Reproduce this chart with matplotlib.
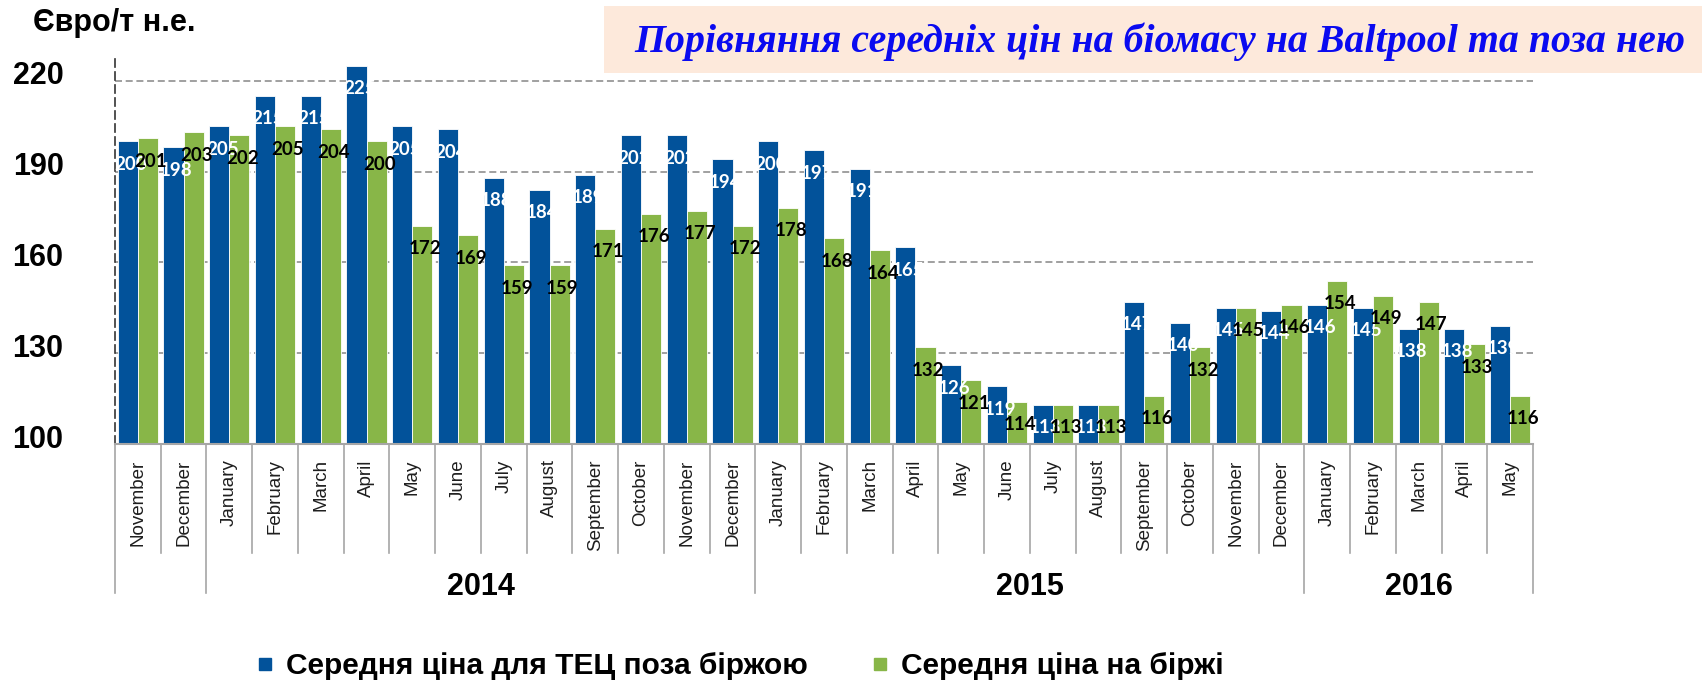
import matplotlib
matplotlib.use('Agg')
import matplotlib.pyplot as plt
from matplotlib.lines import Line2D
from matplotlib.patches import Rectangle
from matplotlib.transforms import ScaledTranslation, blended_transform_factory
import numpy as np

plt.rcParams['font.family'] = ['Liberation Sans', 'DejaVu Sans']

# місяці листопад 2013 - травень 2016
misyatsi = ['November', 'December',
            'January', 'February', 'March', 'April', 'May', 'June',
            'July', 'August', 'September', 'October', 'November', 'December',
            'January', 'February', 'March', 'April', 'May', 'June',
            'July', 'August', 'September', 'October', 'November', 'December',
            'January', 'February', 'March', 'April', 'May']
roky = ['', '2014', '2015', '2016']
misyatsiv_u_rotsi = [2, 12, 12, 5]

# ціни, євро/т н.е.
tsina_poza = [200, 198, 205, 215, 215, 225, 205, 204, 188, 184, 189, 202, 202, 194,
              200, 197, 191, 165, 126, 119, 113, 113, 147, 140, 145, 144,
              146, 145, 138, 138, 139]
tsina_birzha = [201, 203, 202, 205, 204, 200, 172, 169, 159, 159, 171, 176, 177, 172,
                178, 168, 164, 132, 121, 114, 113, 113, 116, 132, 145, 146,
                154, 149, 147, 133, 116]

yticks = [100, 130, 160, 190, 220]

nazva_1 = 'Середня ціна для ТЕЦ поза біржою'
nazva_2 = 'Середня ціна на біржі'
zagolovok = 'Порівняння середніх цін на біомасу на Baltpool та поза нею'

syniy = '#02529a'
zeleny = '#88b648'

W, H = 1704, 681
fig = plt.figure(figsize=(W / 100, H / 100), dpi=100)
ax = fig.add_axes([115 / W, 1 - 444 / H, (1533 - 115) / W, (444 - 55) / H])

x = np.arange(len(misyatsi))
w = 0.44
b1 = ax.bar(x - w / 2, np.array(tsina_poza) - 100, w, bottom=100, color=syniy,
            edgecolor='white', linewidth=0.6, zorder=2)
b2 = ax.bar(x + w / 2, np.array(tsina_birzha) - 100, w, bottom=100, color=zeleny,
            edgecolor='white', linewidth=0.6, zorder=2)

# підписи значень всередині стовпчиків
for xi, v in zip(x, tsina_poza):
    ax.annotate(str(v), xy=(xi - w / 2, v), xytext=(2, -16.5), textcoords='offset points',
                ha='center', va='center', color='white', fontsize=13.5,
                fontweight='bold', family=['Lato', 'DejaVu Sans'], zorder=5)
for xi, v in zip(x, tsina_birzha):
    ax.annotate(str(v), xy=(xi + w / 2, v), xytext=(2, -16.5), textcoords='offset points',
                ha='center', va='center', color='black', fontsize=13.5,
                fontweight='bold', family=['Lato', 'DejaVu Sans'], zorder=6)

ax.set_xlim(-0.5, len(misyatsi) - 0.5)
ax.set_ylim(100, 228.5)

ax.set_yticks(yticks)
ax.set_yticklabels([str(t) for t in yticks], fontsize=22, fontweight='bold')
ax.tick_params(axis='y', length=0, pad=37)
for lab in ax.get_yticklabels():
    lab.set_transform(lab.get_transform() + ScaledTranslation(0, 8 / 100, fig.dpi_scale_trans))
ax.yaxis.grid(True, color='#a0a0a0', linewidth=1.4, linestyle=(0, (3.6, 1.9)), zorder=0.5)
ax.set_axisbelow(True)

ax.set_xticks(x)
ax.set_xticklabels(misyatsi, rotation=90, fontsize=13.5, color='#1e1e1e')
ax.tick_params(axis='x', length=0, pad=11)

for s in ['top', 'right']:
    ax.spines[s].set_visible(False)
ax.spines['left'].set_color('#333333')
ax.spines['left'].set_linewidth(1.2)
ax.spines['left'].set_linestyle((0, (4.8, 3)))
ax.spines['bottom'].set_color('#a6a6a6')
ax.spines['bottom'].set_linewidth(1.5)

# роздільники місяців і років під віссю
tr = blended_transform_factory(ax.transData, ax.transAxes)
mezhi_rokiv = np.cumsum([0] + misyatsiv_u_rotsi)
for i in range(len(misyatsi) + 1):
    niz = -0.383 if i in mezhi_rokiv else -0.28
    ax.add_line(Line2D([i - 0.5, i - 0.5], [0, niz], transform=tr, color='#a6a6a6',
                       linewidth=1.2, clip_on=False))
for rik, a, b in zip(roky, mezhi_rokiv[:-1], mezhi_rokiv[1:]):
    if rik:
        ax.text((a + b - 1) / 2, -0.3676, rik, transform=tr, ha='center', va='center',
                fontsize=22, fontweight='bold')

fig.text(33 / W, 1 - 23 / H, 'Євро/т н.е.', fontsize=22, fontweight='bold',
         ha='left', va='center')

# заголовок у рожевій рамці
fig.patches.append(Rectangle((604 / W, 1 - 73 / H), (1702 - 604) / W, 67 / H,
                             transform=fig.transFigure, facecolor='#fde9db',
                             edgecolor='none', zorder=0))
fig.text(634 / W, 1 - 42 / H, zagolovok, fontsize=28.7, fontweight='bold', fontstyle='italic',
         family=['Liberation Serif', 'DejaVu Serif'], color='#0a0af0', ha='left', va='center')

ruchky = [Line2D([], [], marker='s', linestyle='none', markersize=8, color=syniy),
          Line2D([], [], marker='s', linestyle='none', markersize=8, color=zeleny)]
fig.legend(ruchky, [nazva_1, nazva_2], loc='center left',
           bbox_to_anchor=(258 / W, 1 - 666 / H), ncol=2, frameon=False,
           prop={'size': 21.5, 'weight': 'bold'}, handlelength=0.5, handletextpad=0.45,
           columnspacing=2.15, borderpad=0, borderaxespad=0)

fig.savefig('out.png', dpi=100)
